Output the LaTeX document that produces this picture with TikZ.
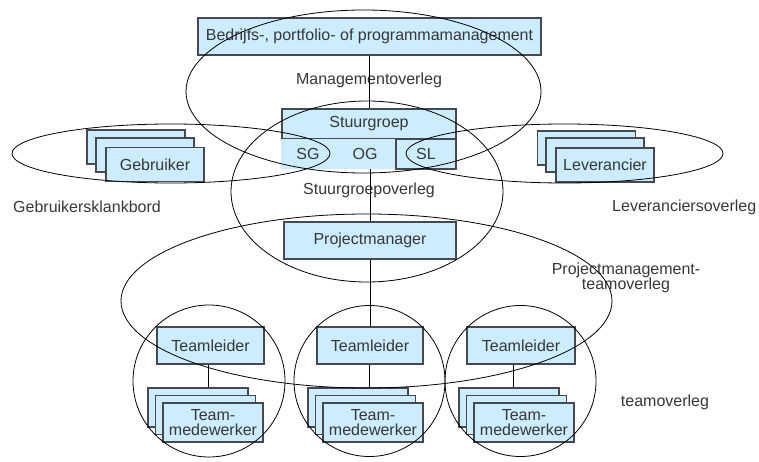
\documentclass[tikz,border=0pt]{standalone}
\usepackage{fontspec}
\setmainfont{Liberation Sans}
\definecolor{boxfill}{RGB}{204,236,255}
\definecolor{boxline}{RGB}{70,74,78}
\definecolor{txt}{RGB}{55,55,55}
\begin{document}
\begin{tikzpicture}[x=1pt,y=-1pt,
  every node/.style={text=txt,font=\fontsize{16}{15}\selectfont},
  box/.style={draw=boxline,fill=boxfill,line width=1.1pt,inner sep=0pt,
    minimum width=#1,minimum height=37pt},
  box/.default=107pt,
  card/.style={draw=boxline,fill=boxfill,line width=1.1pt,inner sep=0pt,
    minimum width=98pt,minimum height=34pt},
  tmcard/.style={draw=boxline,fill=boxfill,line width=1.1pt,inner sep=0pt,
    minimum width=100pt,minimum height=39pt,align=center},
  ring/.style={draw=black,line width=0.8pt},
  link/.style={draw=black,line width=0.9pt},
  lbl/.style={inner sep=0pt,align=center}]
\useasboundingbox (0,0) rectangle (759,462);

% --- boxes of the organisation ---
\node[box=343pt] (top) at (369.5,36.5) {Bedrijfs-, portfolio- of programmamanagement};
\node[box=174pt,minimum height=30pt] (sg) at (369,124) {Stuurgroep};
\node[fill=boxfill,inner sep=0pt,minimum width=115pt,minimum height=30pt] (sgog) at (338.5,154) {};
\node[lbl] (sgcell) at (308,154) {SG};
\node[lbl] (ogcell) at (365,154) {OG};
\node[draw=boxline,fill=boxfill,line width=1.1pt,inner sep=0pt,minimum width=60pt,minimum height=30pt] (slcell) at (426,154) {SL};
\node[box=172pt] (pm) at (370,240.5) {Projectmanager};

% Gebruiker cards
\node[card] (gb1) at (136,147) {};
\node[card] (gb2) at (145,155) {};
\node[card] (gb3) at (155,164.5) {Gebruiker};
% Leverancier cards
\node[card] (lv1) at (586.5,148) {};
\node[card] (lv2) at (595,155) {};
\node[card] (lv3) at (605,165) {Leverancier};

% teams
\node[box=107pt] (tl1) at (210.5,345.5) {Teamleider};
\node[box=106pt] (tl2) at (370,345.5) {Teamleider};
\node[box=108pt] (tl3) at (521,345.5) {Teamleider};
\foreach \n/\x in {1/198,2/358,3/509}{
  \node[tmcard] (tm\n a) at (\x,407.5) {};
  \node[tmcard] (tm\n b) at (\x+7.5,415) {};
  \node[tmcard] (tm\n c) at (\x+15,422.5) {Team-\\medewerker};
}

% --- meeting labels ---
\node[lbl] (l-mgmt) at (369,80) {Managementoverleg};
\node[lbl] (l-stuur) at (369,190) {Stuurgroepoverleg};
\node[lbl,anchor=west] (l-gebr) at (13,207) {Gebruikersklankbord};
\node[lbl,anchor=west] (l-lev) at (612,207) {Leveranciersoverleg};
\node[lbl] (l-pmt) at (626,278) {Projectmanagement-\\teamoverleg};
\node[lbl] (l-team) at (665,402) {teamoverleg};

% --- reporting lines ---
\draw[link] (top.south -| sg.north) -- (sg.north);
\draw[link] (pm.north |- sgog.south) -- (pm.north);
\draw[link] (pm.south) -- (tl2.north);
\draw[link] ([xshift=-2pt]tl1.south) -- ([xshift=-2pt]tl1.south |- tm1a.north);
\draw[link] ([xshift=-1pt]tl2.south) -- ([xshift=-1pt]tl2.south |- tm2a.north);
\draw[link] ([xshift=-8pt]tl3.south) -- ([xshift=-8pt]tl3.south |- tm3a.north);

% --- meetings ---
\draw[ring] (363.5,91.5) ellipse [x radius=177.5pt,y radius=81.5pt];
\draw[ring] (367,191.5) ellipse [x radius=136pt,y radius=90.5pt];
\draw[ring] (171,153.5) ellipse [x radius=159pt,y radius=29.5pt];
\draw[ring] (564.5,153.5) ellipse [x radius=158.5pt,y radius=29.5pt];
\draw[ring] (366.5,301) ellipse [x radius=245.5pt,y radius=87pt];
\draw[ring] (209,381) circle [radius=76pt];
\draw[ring] (369.5,381) circle [radius=75.5pt];
\draw[ring] (520.5,381) circle [radius=75.5pt];
\end{tikzpicture}
\end{document}
